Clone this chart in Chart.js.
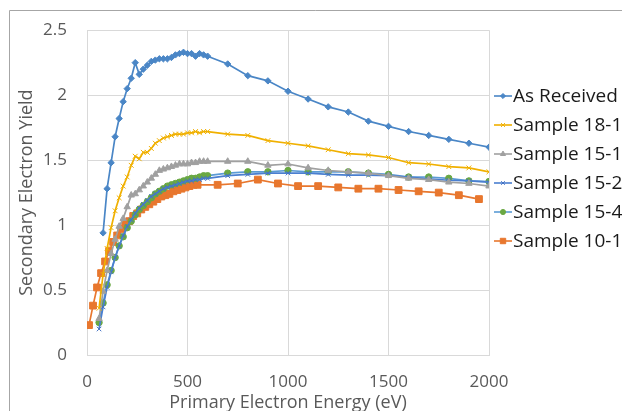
<!DOCTYPE html>
<html>
<head>
<meta charset="utf-8">
<script src="https://cdn.jsdelivr.net/npm/chart.js@4.4.0/dist/chart.umd.min.js"></script>
<style>
    html, body { margin: 0; padding: 0; background: #fff; }
    #wrap { width: 622px; height: 411px; position: relative; }
</style>
</head>
<body>
<div id="wrap"><canvas id="sey"></canvas></div>
<script>
// energies (eV)
var energyAR = [80, 100, 120, 140, 160, 180, 200, 220, 240, 260, 280, 300, 320, 340, 360, 380, 400, 420, 440, 460, 480, 500, 520, 540, 560, 580, 600,
    700, 800, 900, 1000, 1100, 1200, 1300, 1400, 1500, 1600, 1700, 1800, 1900, 2000];
var energy60 = [60, 80, 100, 120, 140, 160, 180, 200, 220, 240, 260, 280, 300, 320, 340, 360, 380, 400, 420, 440, 460, 480, 500, 520, 540, 560, 580, 600,
    700, 800, 900, 1000, 1100, 1200, 1300, 1400, 1500, 1600, 1700, 1800, 1900, 2000];
var energy10 = [10, 30, 50, 70, 90, 110, 130, 150, 170, 190, 210, 230, 250, 270, 290, 310, 330, 350, 370, 390, 410, 430, 450, 470, 490, 510, 530, 550,
    650, 750, 850, 950, 1050, 1150, 1250, 1350, 1450, 1550, 1650, 1750, 1850, 1950];

// secondary electron yield
var asReceived = [0.94, 1.28, 1.48, 1.68, 1.82, 1.95, 2.05, 2.13, 2.25, 2.16, 2.20, 2.23, 2.26, 2.27, 2.28, 2.28, 2.28, 2.29, 2.31, 2.32, 2.33, 2.32, 2.32, 2.30, 2.32, 2.31, 2.30,
    2.24, 2.15, 2.11, 2.03, 1.97, 1.91, 1.87, 1.80, 1.76, 1.72, 1.69, 1.66, 1.63, 1.60];
var sample18_1 = [0.36, 0.62, 0.82, 0.98, 1.11, 1.21, 1.30, 1.37, 1.46, 1.53, 1.51, 1.56, 1.56, 1.59, 1.63, 1.65, 1.67, 1.68, 1.69, 1.70, 1.70, 1.70, 1.71, 1.71, 1.72, 1.71, 1.72, 1.72,
    1.70, 1.69, 1.65, 1.63, 1.61, 1.58, 1.55, 1.54, 1.52, 1.48, 1.47, 1.45, 1.44, 1.41];
var sample15_1 = [0.28, 0.49, 0.65, 0.78, 0.89, 0.99, 1.05, 1.14, 1.23, 1.24, 1.27, 1.30, 1.33, 1.36, 1.39, 1.42, 1.43, 1.44, 1.45, 1.46, 1.47, 1.47, 1.47, 1.48, 1.48, 1.49, 1.49, 1.49,
    1.49, 1.49, 1.46, 1.47, 1.44, 1.42, 1.41, 1.40, 1.38, 1.36, 1.35, 1.33, 1.32, 1.30];
var sample15_2 = [0.20, 0.37, 0.52, 0.64, 0.75, 0.84, 0.92, 0.99, 1.04, 1.09, 1.13, 1.16, 1.19, 1.22, 1.24, 1.26, 1.28, 1.29, 1.30, 1.31, 1.32, 1.33, 1.34, 1.34, 1.35, 1.35, 1.36, 1.36,
    1.38, 1.39, 1.40, 1.40, 1.40, 1.39, 1.385, 1.385, 1.38, 1.37, 1.355, 1.345, 1.34, 1.33];
var sample15_4 = [0.25, 0.40, 0.54, 0.65, 0.75, 0.84, 0.91, 0.98, 1.03, 1.08, 1.12, 1.15, 1.18, 1.21, 1.24, 1.26, 1.28, 1.30, 1.31, 1.32, 1.33, 1.34, 1.35, 1.36, 1.36, 1.37, 1.38, 1.38,
    1.40, 1.41, 1.41, 1.42, 1.41, 1.41, 1.41, 1.40, 1.39, 1.37, 1.37, 1.36, 1.34, 1.335];
var sample10_1 = [0.23, 0.38, 0.52, 0.63, 0.72, 0.80, 0.87, 0.92, 0.97, 1.01, 1.03, 1.07, 1.09, 1.12, 1.14, 1.16, 1.18, 1.20, 1.22, 1.23, 1.24, 1.26, 1.27, 1.28, 1.29, 1.30, 1.31, 1.31,
    1.31, 1.32, 1.35, 1.32, 1.30, 1.30, 1.29, 1.28, 1.28, 1.27, 1.26, 1.25, 1.23, 1.20];

var xTicks = [0, 500, 1000, 1500, 2000];
var yTicks = [0, 0.5, 1, 1.5, 2, 2.5];

var FONT = '"Open Sans", "Noto Sans", sans-serif';

function pts(xs, ys) {
    return xs.map(function (x, i) { return { x: x, y: ys[i] }; });
}

function series(label, xs, ys, line, marker, style, r) {
    return {
        label: label,
        data: pts(xs, ys),
        borderColor: line,
        backgroundColor: marker,
        pointBackgroundColor: marker,
        pointBorderColor: marker,
        pointStyle: style,
        pointRadius: r,
        pointBorderWidth: 1,
        borderWidth: 1.7,
        showLine: true,
        fill: false,
        tension: 0
    };
}

var datasets = [
    series('As Received', energyAR, asReceived, '#4a86c6', '#4a86c6', 'rectRot', 3.2),
    series('Sample 18-1', energy60, sample18_1, '#f0b000', '#f0b000', 'crossRot', 3.4),
    series('Sample 15-1', energy60, sample15_1, '#a0a0a0', '#a0a0a0', 'triangle', 3.7),
    series('Sample 15-2', energy60, sample15_2, '#4a7fd0', '#4472c4', 'crossRot', 3.2),
    series('Sample 15-4', energy60, sample15_4, '#5b9bd5', '#6aa843', 'circle', 3.2),
    series('Sample 10-1', energy10, sample10_1, '#e8772e', '#e8772e', 'rect', 4.8)
];

// excel-like legend: line stub with the marker in the middle
var legendPlugin = {
    id: 'stubLegend',
    afterDraw: function (chart) {
        var ctx = chart.ctx;
        ctx.save();
        chart.data.datasets.forEach(function (ds, i) {
            var y = 96 + i * 29;
            ctx.strokeStyle = ds.borderColor;
            ctx.lineWidth = 1.6;
            ctx.beginPath();
            ctx.moveTo(494, y);
            ctx.lineTo(512, y);
            ctx.stroke();
            ctx.fillStyle = ds.pointBackgroundColor;
            ctx.strokeStyle = ds.pointBorderColor;
            ctx.lineWidth = 1;
            Chart.helpers.drawPoint(ctx, { pointStyle: ds.pointStyle, radius: ds.pointRadius * 0.8, rotation: 0, borderWidth: 1 }, 503, y);
            ctx.fillStyle = '#1a1a1a';
            ctx.font = '19px ' + FONT;
            ctx.textBaseline = 'middle';
            ctx.textAlign = 'left';
            ctx.fillText(ds.label, 513, y + 1);
        });
        // chart area frame (cropped)
        ctx.strokeStyle = '#a6a6a6';
        ctx.lineWidth = 1;
        ctx.beginPath();
        ctx.moveTo(9.5, 411);
        ctx.lineTo(9.5, 10.5);
        ctx.lineTo(622, 10.5);
        ctx.stroke();
        ctx.restore();
    }
};

new Chart(document.getElementById('sey'), {
    type: 'scatter',
    data: { datasets: datasets },
    plugins: [legendPlugin],
    options: {
        responsive: true,
        maintainAspectRatio: false,
        animation: false,
        layout: { padding: { left: 0, right: 133, top: 23, bottom: 0 } },
        plugins: {
            legend: { display: false },
            tooltip: { enabled: false }
        },
        scales: {
            x: {
                type: 'linear',
                min: 0,
                max: 2000,
                afterBuildTicks: function (axis) {
                    axis.ticks = xTicks.map(function (v) { return { value: v }; });
                },
                afterFit: function (axis) { axis.height = 56; },
                grid: { color: '#d9d9d9', lineWidth: 1, drawTicks: false },
                border: { color: '#d9d9d9' },
                ticks: {
                    color: '#595959',
                    font: { family: FONT, size: 17 },
                    padding: 17,
                    maxRotation: 0,
                    callback: function (v) { return String(v); }
                },
                title: {
                    display: true,
                    text: 'Primary Electron Energy (eV)',
                    color: '#595959',
                    font: { family: FONT, size: 18, lineHeight: 1 },
                    padding: { top: 0, bottom: -1 }
                }
            },
            y: {
                type: 'linear',
                min: 0,
                max: 2.5,
                afterBuildTicks: function (axis) {
                    axis.ticks = yTicks.map(function (v) { return { value: v }; });
                },
                afterFit: function (axis) { axis.width = 87; },
                grid: { color: '#d9d9d9', lineWidth: 1, drawTicks: false },
                border: { color: '#d9d9d9' },
                ticks: {
                    color: '#595959',
                    font: { family: FONT, size: 17 },
                    padding: 20,
                    callback: function (v) { return String(v); }
                },
                title: {
                    display: true,
                    text: 'Secondary Electron Yield',
                    color: '#595959',
                    font: { family: FONT, size: 18, lineHeight: 1 },
                    padding: { top: 18, bottom: 0 }
                }
            }
        }
    }
});
</script>
</body>
</html>
